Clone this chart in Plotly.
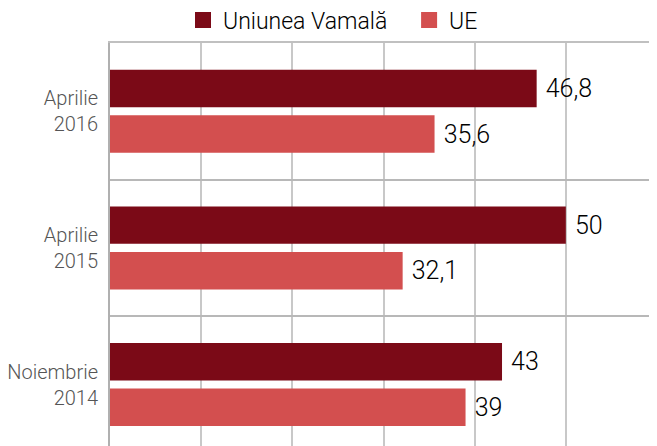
import plotly.graph_objects as go

categories = ["Noiembrie<br>2014", "Aprilie<br>2015", "Aprilie<br>2016"]
series_names = ["Uniunea Vamală", "UE"]
vamala = [43, 50, 46.8]
ue = [39, 32.1, 35.6]
colors = ["#7B0A17", "#D34F4F"]

def fmt(v):
    s = ("%g" % v).replace(".", ",")
    return "\u00a0" + s

label_font = dict(size=25, color="#000000", family="Roboto", weight=300)

fig = go.Figure()
fig.add_trace(go.Bar(
    y=categories, x=ue, name=series_names[1], orientation="h",
    marker=dict(color=colors[1], line=dict(width=0)),
    text=[fmt(v) for v in ue], textposition="outside",
    textfont=label_font, cliponaxis=False, showlegend=False,
))
fig.add_trace(go.Bar(
    y=categories, x=vamala, name=series_names[0], orientation="h",
    marker=dict(color=colors[0], line=dict(width=0)),
    text=[fmt(v) for v in vamala], textposition="outside",
    textfont=label_font, cliponaxis=False, showlegend=False,
))
# legend entries with larger square swatches
for i, (name, col) in enumerate(zip(series_names, colors)):
    fig.add_trace(go.Scatter(
        x=[None], y=[None], mode="markers",
        name=name + ("\u00a0\u00a0\u00a0" if i == 0 else ""),
        marker=dict(symbol="square", size=16, color=col),
        showlegend=True,
    ))

# page body has an 8px default margin; compensate so the chart lands where the reference has it
fig.update_layout(
    width=650, height=438,
    margin=dict(l=102, r=1, t=35, b=0, autoexpand=False),
    paper_bgcolor="white", plot_bgcolor="white",
    barmode="group", bargap=0.333, bargroupgap=0.178,
    font=dict(family="Roboto", color="#000000"),
    legend=dict(orientation="h", x=0.5, xanchor="center", xref="container",
                y=1.057, yanchor="middle", bgcolor="rgba(0,0,0,0)",
                font=dict(size=23, color="#000000", family="Roboto", weight=300),
                itemwidth=30, entrywidth=0),
    showlegend=True,
    xaxis=dict(range=[0, 60], dtick=10, showgrid=True, gridcolor="#c8c8c8", gridwidth=1.5,
               showticklabels=False, zeroline=False, showline=True, mirror=True,
               linecolor="#c0c0c0", linewidth=2, fixedrange=True, automargin=False),
    yaxis=dict(type="category", range=[-0.45, 2.5], tickson="boundaries",
               showgrid=True, gridcolor="#b8b8b8", gridwidth=1.5,
               showline=True, linecolor="#b0b0b0", linewidth=2, ticks="",
               tickfont=dict(size=20, color="#555555", family="Roboto", weight=300),
               ticklabelstandoff=6, fixedrange=True, automargin=False),
)

fig.write_html("out.html")
